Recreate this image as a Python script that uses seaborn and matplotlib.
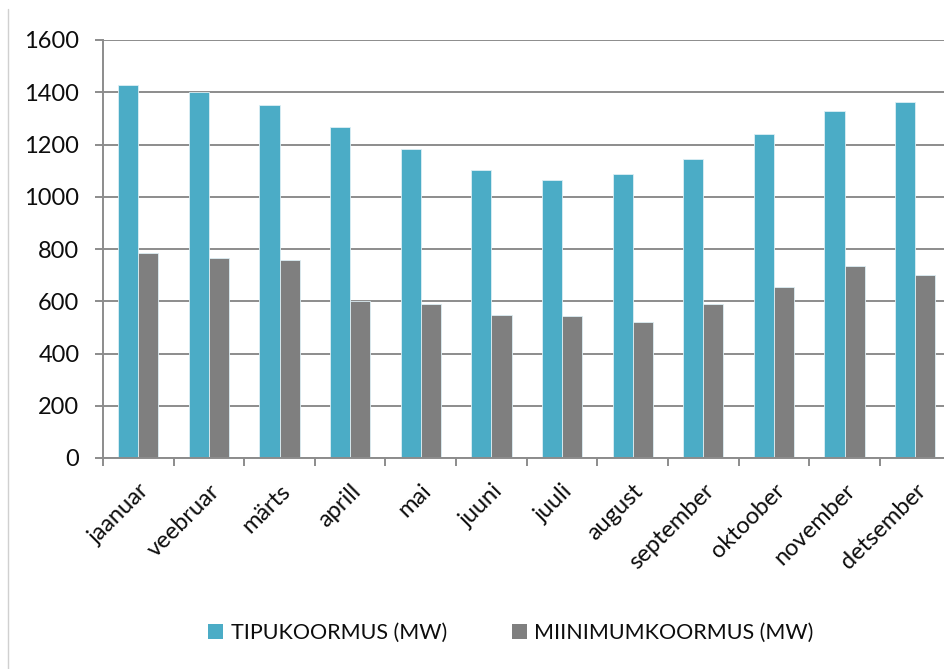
import matplotlib
matplotlib.use("Agg")
import matplotlib.pyplot as plt
import seaborn as sns
import pandas as pd
import numpy as np
from matplotlib.lines import Line2D
from matplotlib.patches import Patch

months = ["jaanuar", "veebruar", "märts", "aprill", "mai", "juuni",
          "juuli", "august", "september", "oktoober", "november", "detsember"]
peak = [1428, 1402, 1350, 1266, 1182, 1103, 1064, 1086, 1144, 1239, 1327, 1361]
minimum = [785, 764, 757, 601, 588, 548, 544, 519, 588, 656, 736, 702]
series_names = ["TIPUKOORMUS (MW)", "MIINIMUMKOORMUS (MW)"]
colors = ["#4BACC6", "#7F7F7F"]
yticks = [0, 200, 400, 600, 800, 1000, 1200, 1400, 1600]

df = pd.DataFrame({
    "month": months * 2,
    "value": peak + minimum,
    "series": [series_names[0]] * 12 + [series_names[1]] * 12,
})

sns.set_theme(style="white")
plt.rcParams["font.family"] = ["Lato", "DejaVu Sans"]

W, H = 944, 669
fig = plt.figure(figsize=(W / 100, H / 100), dpi=100)
left, right = 103 / W, 950.5 / W
bottom, top = 1 - 458 / H, 1 - 40 / H
ax = fig.add_axes([left, bottom, right - left, top - bottom])

sns.barplot(data=df, x="month", y="value", hue="series", order=months,
            hue_order=series_names, palette=dict(zip(series_names, colors)),
            width=0.57, gap=0, saturation=1, ax=ax, legend=False,
            edgecolor="#DDEFF4", linewidth=0.6)

grid_c = "#8C8C8C"
txt_c = "#0d0d0d"
ax.set_xlim(-0.5, 11.5)
ax.set_ylim(0, 1600)
ax.set_yticks(yticks)
ax.yaxis.grid(True, color=grid_c, linewidth=1.4)
ax.xaxis.grid(False)
ax.set_axisbelow(True)
for s in ["top", "right"]:
    ax.spines[s].set_visible(False)
for s in ["left", "bottom"]:
    ax.spines[s].set_color(grid_c)
    ax.spines[s].set_linewidth(1.4)
ax.set_xlabel("")
ax.set_ylabel("")

ax.set_xticks(range(12))
ax.set_xticklabels(months, rotation=45, ha="right", rotation_mode="anchor",
                   fontsize=17, color=txt_c)
ax.set_xticks(np.arange(-0.5, 12, 1), minor=True)
ax.tick_params(axis="x", which="major", length=0, pad=16)
ax.tick_params(axis="x", which="minor", length=6, width=1.4, color=grid_c,
               direction="out", bottom=True)
ax.tick_params(axis="y", which="major", length=6, width=1.4, color=grid_c,
               direction="out", left=True, pad=11, labelsize=17,
               labelcolor=txt_c)

handles = [Patch(facecolor=c, edgecolor="none", label=n)
           for c, n in zip(colors, series_names)]
fig.legend(handles=handles, loc="center", bbox_to_anchor=(511 / W, 1 - 633 / H),
           ncol=2, frameon=False, fontsize=15.5, handlelength=0.7,
           handleheight=0.7, handletextpad=0.35, columnspacing=3.0,
           labelcolor=txt_c)

fig.add_artist(Line2D([8 / W, 8 / W], [0, 1 - 9 / H], transform=fig.transFigure,
                      color="#D0D0D0", linewidth=1))

fig.savefig("out.png", dpi=100)
